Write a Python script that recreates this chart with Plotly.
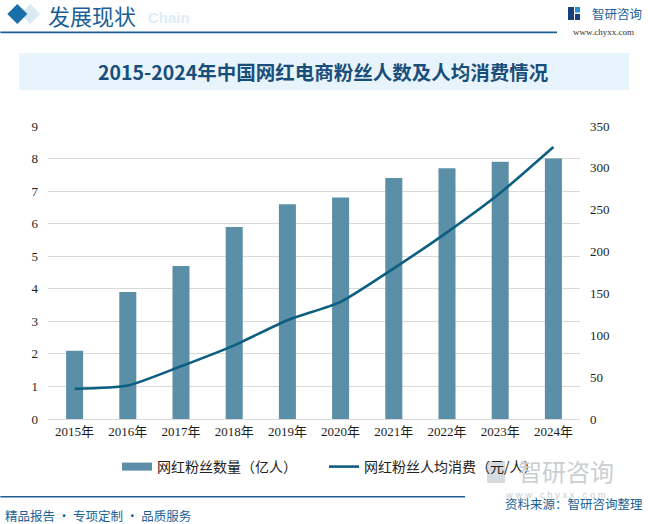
import plotly.graph_objects as go

years = ["2015年", "2016年", "2017年", "2018年", "2019年", "2020年", "2021年", "2022年", "2023年", "2024年"]
fans = [2.1, 3.9, 4.7, 5.9, 6.6, 6.8, 7.4, 7.7, 7.9, 8.0]
spend = [36, 40, 63, 88, 118, 140, 180, 223, 270, 325]
left_ticks = [0, 1, 2, 3, 4, 5, 6, 7, 8, 9]
right_ticks = [0, 50, 100, 150, 200, 250, 300, 350]

W, H = 648, 524
ML, MR, MT, MB = 47.7, 68, 126, 105
num_font = "Liberation Serif, Noto Sans CJK SC"
cjk = "Noto Sans CJK SC"
blue = "#1a5f96"
bar_color = "#5b8fa8"
line_color = "#0c5f80"
tick_color = "#1e1e1e"

fig = go.Figure()
fig.add_trace(go.Bar(x=years, y=fans, name="网红粉丝数量（亿人）", showlegend=False,
                     marker=dict(color=bar_color, line=dict(width=0)), width=0.32))
# legend-only entry for the bars (wide swatch like the reference)
fig.add_trace(go.Scatter(x=[None], y=[None], name="网红粉丝数量（亿人）", mode="lines",
                         line=dict(color=bar_color, width=8)))
fig.add_trace(go.Scatter(x=years, y=spend, name="网红粉丝人均消费（元/人）", yaxis="y2",
                         mode="lines", line=dict(color=line_color, width=2.6, shape="spline", smoothing=0.6)))

fig.update_layout(
    width=W, height=H,
    margin=dict(l=ML, r=MR, t=MT, b=MB, autoexpand=False),
    paper_bgcolor="white", plot_bgcolor="white",
    showlegend=True,
    legend=dict(orientation="h", x=0.5, xanchor="center", xref="container",
                y=1 - 467 / H, yref="container", yanchor="middle",
                font=dict(family=cjk, size=14, color="#222"), itemwidth=30,
                entrywidth=162, entrywidthmode="pixels",
                traceorder="normal", bgcolor="rgba(0,0,0,0)"),
    xaxis=dict(type="category", showgrid=False, showline=True, linecolor="#d9d9d9", linewidth=1,
               ticks="", tickfont=dict(family=num_font, size=13, color=tick_color)),
    yaxis=dict(range=[0, 9], tickvals=left_ticks, showgrid=True, gridcolor="#d9d9d9", gridwidth=1,
               zeroline=False, ticks="", ticklabelstandoff=9,
               tickfont=dict(family=num_font, size=13, color=tick_color)),
    yaxis2=dict(range=[0, 350], tickvals=right_ticks, overlaying="y", side="right", showgrid=False,
                zeroline=False, ticks="", ticklabelstandoff=9,
                tickfont=dict(family=num_font, size=13, color=tick_color)),
)

PW = W - ML - MR
PH = H - MT - MB


def to_paper(x, y):
    return (x - ML) / PW, 1 + (MT - y) / PH


def path_px(pts):
    p = []
    for i, (x, y) in enumerate(pts):
        X, Y = to_paper(x, y)
        p.append(("M" if i == 0 else "L") + f"{X:.5f},{Y:.5f}")
    return " ".join(p) + " Z"


def rect_px(x0, y0, x1, y1, **kw):
    a = to_paper(x0, y0)
    b = to_paper(x1, y1)
    d = dict(type="rect", xref="paper", yref="paper", x0=a[0], y0=a[1], x1=b[0], y1=b[1])
    d.update(kw)
    return d


shapes = [
    dict(type="path", xref="paper", yref="paper", path=path_px([(30, 4), (40, 14), (30, 24), (20, 14)]),
         fillcolor="#dbe9f3", line=dict(width=0), layer="below"),
    dict(type="path", xref="paper", yref="paper", path=path_px([(17, 4), (27, 14), (17, 24), (7, 14)]),
         fillcolor="#1a6fa8", line=dict(width=0)),
    rect_px(0, 31.5, 557, 33.3, fillcolor=blue, line=dict(width=0)),
    rect_px(19, 53, 629, 90, fillcolor="#e8f4fb", line=dict(width=0), layer="below"),
    rect_px(0, 496, 465, 497.5, fillcolor=blue, line=dict(width=0)),
    # logo icon
    rect_px(568, 7, 574, 20, fillcolor="#1a3f7a", line=dict(width=0)),
    rect_px(575, 7, 580, 12.5, fillcolor="#2a8fd0", line=dict(width=0)),
    rect_px(575, 14, 580, 20, fillcolor="#1a3f7a", line=dict(width=0)),
    # watermark icon bottom right
    rect_px(487, 461, 505, 483, fillcolor="#d6dbe0", line=dict(width=0), layer="below"),
]

annotations = []


def ann(x, y, text, size, color, family=cjk, xanchor="left", **kw):
    X, Y = to_paper(x, y)
    d = dict(xref="paper", yref="paper", x=X, y=Y, text=text, showarrow=False,
             font=dict(family=family, size=size, color=color), xanchor=xanchor, yanchor="middle")
    d.update(kw)
    annotations.append(d)


ann(146, 17, "<b>Chain</b>", 15, "#dcedf8", family="Liberation Sans")
ann(46, 15, "发展现状", 22, blue)
ann(590, 13, "智研咨询", 12.5, blue)
ann(604, 32, "www.chyxx.com", 9, "#333", family="Liberation Serif", xanchor="center")
ann(323, 72, "<b>2015-2024年中国网红电商粉丝人数及人均消费情况</b>", 19.5, "#1a4e7a", xanchor="center")
# watermark bottom right
ann(566, 470, "智研咨询", 24, "#c9ced3", xanchor="center")
ann(555, 494, "w w w . c h y x x . c o m", 9.5, "#c9ced3", family="Liberation Sans", xanchor="center")
ann(3, 515, "精品报告 · 专项定制 · 品质服务", 12.5, blue)
ann(645, 503, "资料来源：智研咨询整理", 12.5, blue, xanchor="right")

fig.update_layout(shapes=shapes, annotations=annotations)
fig.write_html("out.html", config={"displayModeBar": False},
               post_script="document.body.style.margin='0';document.body.style.padding='0';")
